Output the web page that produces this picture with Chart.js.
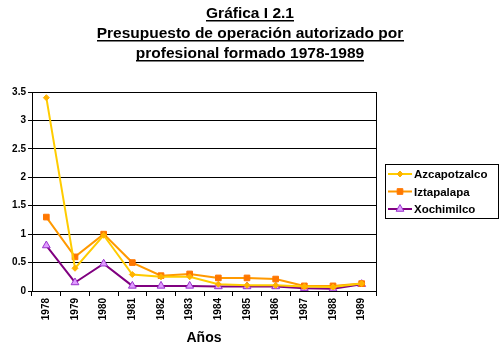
<!DOCTYPE html>
<html><head><meta charset="utf-8">
<script src="https://cdn.jsdelivr.net/npm/chart.js@4"></script>
<style>html,body{margin:0;padding:0;background:#fff;}#wrap{width:504px;height:350px;}</style>
</head><body><div id="wrap"><canvas id="c" width="504" height="350"></canvas></div>
<script>
const years = ['1978','1979','1980','1981','1982','1983','1984','1985','1986','1987','1988','1989'];
const azcapotzalco = [3.4, 0.4, 0.98, 0.29, 0.25, 0.25, 0.12, 0.1, 0.1, 0.08, 0.07, 0.13];
const iztapalapa   = [1.3, 0.6, 1.0, 0.5, 0.27, 0.3, 0.23, 0.23, 0.21, 0.09, 0.09, 0.13];
const xochimilco   = [0.8, 0.15, 0.48, 0.09, 0.09, 0.09, 0.08, 0.08, 0.08, 0.05, 0.04, 0.12];
const yTicks = [0, 0.5, 1, 1.5, 2, 2.5, 3, 3.5];
const titleLines = ['Gráfica I 2.1', 'Presupuesto de operación autorizado por', 'profesional formado 1978-1989'];
const seriesNames = ['Azcapotzalco', 'Iztapalapa', 'Xochimilco'];

const FONT = 'Arial, "Liberation Sans", sans-serif';

const styles = [
  {line:'#FFCC00', fill:'#FFB300', border:'#FFB300', point:'rectRot', r:3},
  {line:'#FF9900', fill:'#FF7700', border:'#FF7700', point:'rect', r:4},
  {line:'#800080', fill:'#E09CFF', border:'#9933CC', point:'triangle', r:4.5}
];
const seriesData = [azcapotzalco, iztapalapa, xochimilco];

const extras = {
  id:'extras',
  afterDraw(chart){
    const ctx = chart.ctx, a = chart.chartArea;
    ctx.save();
    ctx.strokeStyle = '#000'; ctx.lineWidth = 1;
    ctx.strokeRect(Math.round(a.left)+0.5, Math.round(a.top)+0.5, Math.round(a.right-a.left), Math.round(a.bottom-a.top));
    ctx.fillStyle = '#000';
    ctx.font = 'bold 15.5px ' + FONT;
    ctx.textAlign = 'center'; ctx.textBaseline = 'alphabetic';
    const cx = 250;
    titleLines.forEach((t,i)=>{
      const y = 18 + i*20;
      ctx.fillText(t, cx, y);
      const w = ctx.measureText(t).width;
      ctx.fillRect(Math.round(cx - w/2), y+2, Math.round(w), 1.5);
    });
    const lx = 385, ly = 164, lw = 113, lh = 54;
    ctx.strokeRect(lx+0.5, ly+0.5, lw, lh);
    ctx.font = 'bold 11.5px ' + FONT;
    ctx.textAlign = 'left'; ctx.textBaseline = 'middle';
    seriesNames.forEach((n,i)=>{
      const y = 174 + i*17.5;
      const s = styles[i];
      ctx.strokeStyle = s.line; ctx.lineWidth = 2;
      ctx.beginPath(); ctx.moveTo(388, y); ctx.lineTo(412, y); ctx.stroke();
      ctx.fillStyle = s.fill; ctx.strokeStyle = s.border; ctx.lineWidth = 1;
      Chart.helpers.drawPoint(ctx, {pointStyle:s.point, radius:s.r, rotation:0, borderWidth:1}, 400, y);
      ctx.fillStyle = '#000';
      ctx.fillText(n, 414, y+1);
    });
    ctx.restore();
  }
};

new Chart(document.getElementById('c'), {
  type:'line',
  data:{
    labels: years,
    datasets: seriesData.map((d,i)=>({
      label: seriesNames[i], data: d,
      borderColor: styles[i].line, borderWidth: 2,
      pointStyle: styles[i].point, pointRadius: styles[i].r,
      pointBackgroundColor: styles[i].fill, pointBorderColor: styles[i].border, pointBorderWidth:1,
      tension: 0, fill:false
    }))
  },
  options:{
    responsive:false, animation:false,
    layout:{padding:{left:0, right:128, top:92, bottom:0}},
    plugins:{legend:{display:false}, title:{display:false}, tooltip:{enabled:false}},
    scales:{
      x:{
        offset:true,
        grid:{display:true, drawOnChartArea:false, offset:true, color:'#000', tickLength:5, tickColor:'#000'},
        border:{display:true, color:'#000'},
        ticks:{color:'#000', font:{family:FONT, size:10, weight:'bold'}, minRotation:90, maxRotation:90, autoSkip:false, padding:2},
        title:{display:true, text:'Años', color:'#000', font:{family:FONT, size:14, weight:'bold'}, padding:{top:2, bottom:3}},
        afterFit(s){ s.height = 59; }
      },
      y:{
        min:0, max:3.5,
        afterBuildTicks(s){ s.ticks = yTicks.map(v=>({value:v})); },
        grid:{color:'#000', tickLength:4, tickColor:'#000', drawTicks:true},
        border:{display:true, color:'#000'},
        ticks:{color:'#000', font:{family:FONT, size:10, weight:'bold'}, padding:2, callback:v=>String(v)},
        afterFit(s){ s.width = 32; }
      }
    }
  },
  plugins:[extras]
});
</script></body></html>
